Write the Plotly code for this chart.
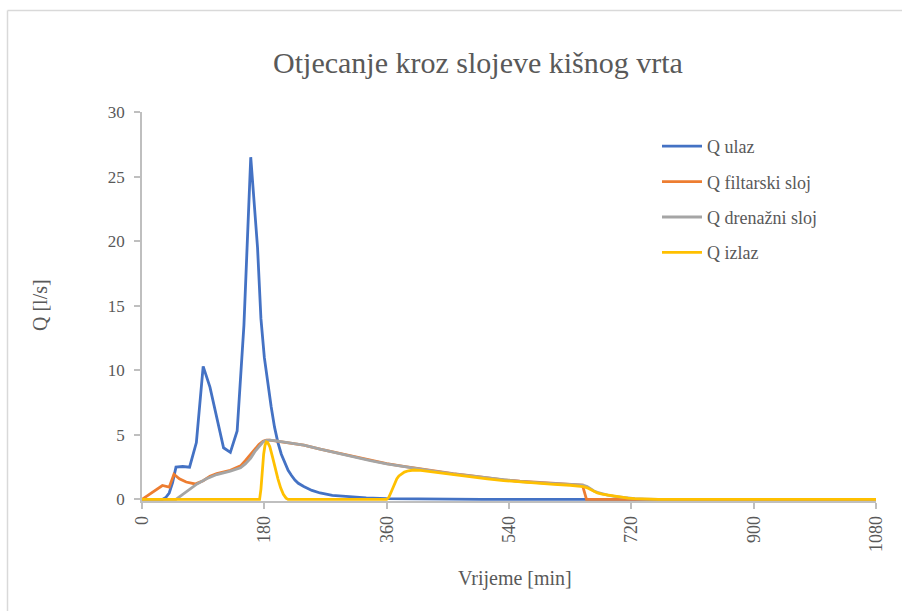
import plotly.graph_objects as go

# ---- data ----
t_ulaz = [0, 30, 35, 40, 45, 50, 60, 70, 80, 90, 100, 110, 120, 130, 140, 150, 160, 170, 175, 180,
          185, 190, 195, 200, 205, 210, 215, 220, 225, 230, 238, 250, 262, 280, 300, 330, 360, 420, 500, 1080]
q_ulaz = [0, 0, 0.15, 0.5, 1.3, 2.5, 2.55, 2.5, 4.4, 10.3, 8.7, 6.4, 4.0, 3.65, 5.3, 13.5, 26.5, 19.5, 14.0, 11.0,
          8.9, 7.2, 5.6, 4.4, 3.5, 2.8, 2.25, 1.85, 1.5, 1.25, 1.0, 0.7, 0.5, 0.32, 0.22, 0.12, 0.07, 0.03, 0.0, 0.0]

t_filtar = [0, 30, 40, 47, 55, 65, 78, 90, 100, 110, 130, 145, 152, 160, 166, 172, 178, 183, 188, 195, 210,
            238, 262, 287, 311, 336, 360, 385, 410, 434, 458, 483, 508, 532, 556, 581, 606, 630, 648, 654, 1080]
q_filtar = [0, 1.08, 0.95, 1.95, 1.6, 1.35, 1.2, 1.45, 1.8, 2.0, 2.25, 2.6, 3.0, 3.5, 3.9, 4.25, 4.5, 4.6, 4.6,
            4.55, 4.42, 4.2, 3.9, 3.6, 3.3, 3.02, 2.77, 2.56, 2.36, 2.18, 2.0, 1.84, 1.67, 1.52, 1.41, 1.32,
            1.25, 1.19, 1.12, 0, 0]

t_dren = [0, 50, 60, 70, 81, 95, 110, 130, 145, 152, 160, 166, 172, 178, 183, 188, 195, 210,
          238, 262, 287, 311, 336, 360, 385, 410, 434, 458, 483, 508, 532, 556, 581, 606, 630, 649,
          655, 660, 665, 670, 677, 685, 695, 705, 715, 725, 740, 760, 1080]
q_dren = [0, 0, 0.4, 0.8, 1.2, 1.6, 1.93, 2.2, 2.45, 2.75, 3.2, 3.7, 4.1, 4.45, 4.58, 4.6,
          4.55, 4.42, 4.2, 3.9, 3.58, 3.28, 3.0, 2.76, 2.54, 2.34, 2.16, 1.98, 1.82, 1.65, 1.5, 1.39,
          1.3, 1.23, 1.17, 1.1, 1.0, 0.82, 0.66, 0.55, 0.44, 0.34, 0.24, 0.16, 0.1, 0.06, 0.03, 0.0, 0.0]

t_izlaz = [0, 173, 175, 177, 179, 181, 183, 185, 188, 192, 196, 200, 204, 208, 212, 215,
           360, 363, 366, 369, 372, 375, 378, 382, 386, 392, 400, 410,
           434, 458, 483, 508, 532, 556, 581, 606, 630, 649,
           655, 660, 665, 670, 677, 685, 695, 705, 715, 725, 740, 760, 1080]
q_izlaz = [0, 0, 0.8, 2.2, 3.5, 4.2, 4.45, 4.4, 4.1, 3.3, 2.4, 1.6, 0.9, 0.4, 0.1, 0,
           0, 0.15, 0.5, 0.9, 1.26, 1.6, 1.82, 2.0, 2.12, 2.22, 2.28, 2.25,
           2.08, 1.92, 1.77, 1.6, 1.46, 1.35, 1.26, 1.17, 1.1, 1.0,
           0.9, 0.75, 0.6, 0.5, 0.42, 0.35, 0.25, 0.17, 0.11, 0.07, 0.03, 0.0, 0.0]

series_names = ["Q ulaz", "Q filtarski sloj", "Q drenažni sloj", "Q izlaz"]
series_colors = ["#4472C4", "#ED7D31", "#A5A5A5", "#FFC000"]

title_text = "Otjecanje kroz slojeve kišnog vrta"
x_title = "Vrijeme [min]"
y_title = "Q [l/s]"
x_ticks = [0, 180, 360, 540, 720, 900, 1080]
y_ticks = [0, 5, 10, 15, 20, 25, 30]

FONT = "Liberation Serif, Times New Roman, serif"
TXT = "#595959"

fig = go.Figure()
for i, (tx, qy) in enumerate([(t_ulaz, q_ulaz), (t_filtar, q_filtar), (t_dren, q_dren), (t_izlaz, q_izlaz)]):
    fig.add_trace(go.Scatter(
        x=tx, y=qy, mode="lines", name=series_names[i],
        line=dict(color=series_colors[i], width=2.8),
        cliponaxis=False, legendgroup=str(i),
    ))

# plot area geometry (pixels)
L, R, T, B = 142, 26, 112, 110
W, H = 902, 611
pw, ph = W - L - R, H - T - B

def px(x):
    return (x - L) / pw

def py(y):
    return (H - B - y) / ph

fig.update_layout(
    width=W, height=H,
    margin=dict(l=L, r=R, t=T, b=B),
    paper_bgcolor="white", plot_bgcolor="white",
    font=dict(family=FONT, color=TXT),
    title=dict(text=title_text, x=478 / W, xanchor="center", xref="container",
               y=1 - 62 / H, yanchor="middle", yref="container",
               font=dict(family=FONT, size=30, color=TXT)),
    showlegend=True,
    legend=dict(x=px(657), y=py(128), xanchor="left", yanchor="top",
                font=dict(family=FONT, size=18, color=TXT),
                tracegroupgap=9, itemwidth=40, bgcolor="rgba(0,0,0,0)"),
    xaxis=dict(range=[0, 1080], tickvals=x_ticks, ticktext=[str(v) for v in x_ticks],
               tickangle=-90, showgrid=False, zeroline=False,
               showline=True, linecolor="#BFBFBF", linewidth=1.5,
               ticks="outside", ticklen=6, tickcolor="#BFBFBF", tickwidth=1.5,
               tickfont=dict(family=FONT, size=18, color=TXT), layer="below traces"),
    yaxis=dict(range=[-0.12, 30], tickvals=y_ticks, ticktext=[str(v) for v in y_ticks],
               showgrid=False, zeroline=False,
               showline=True, linecolor="#BFBFBF", linewidth=1.5,
               ticks="outside", ticklen=6, tickcolor="#BFBFBF", tickwidth=1.5,
               ticklabelstandoff=6,
               tickfont=dict(family=FONT, size=17, color=TXT), layer="below traces"),
    annotations=[
        dict(text=y_title, x=px(40), y=py(305), xref="paper", yref="paper",
             textangle=-90, showarrow=False, xanchor="center", yanchor="middle",
             font=dict(family=FONT, size=20, color=TXT)),
        dict(text=x_title, x=px(515), y=py(578), xref="paper", yref="paper",
             showarrow=False, xanchor="center", yanchor="middle",
             font=dict(family=FONT, size=20, color=TXT)),
    ],
    shapes=[
        dict(type="line", xref="paper", yref="paper", x0=px(7.5), x1=px(950), y0=py(10.5), y1=py(10.5),
             line=dict(color="#D9D9D9", width=1.5)),
        dict(type="line", xref="paper", yref="paper", x0=px(7.5), x1=px(7.5), y0=py(10.5), y1=py(700),
             line=dict(color="#D9D9D9", width=1.5)),
    ],
)

fig.write_html("out.html", config={"displayModeBar": False},
               post_script="document.body.style.margin='0';document.body.style.overflow='hidden';")
